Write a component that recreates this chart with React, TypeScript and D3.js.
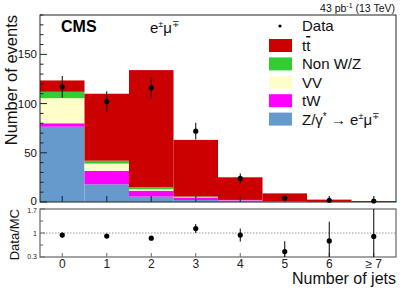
import React from "react";
import * as d3 from "d3";

const jetBins = ["0", "1", "2", "3", "4", "5", "6", "≥ 7"];
const dyValues = [76.5, 18, 5.5, 2, 0.5, 0.2, 0.05, 0.02];
const twValues = [3.5, 13.5, 6, 2.7, 1.2, 0.4, 0.1, 0.05];
const vvValues = [25.5, 7.5, 1.5, 0.4, 0.2, 0.05, 0.02, 0.01];
const nonWZValues = [6.5, 3, 2, 0.5, 0.2, 0.1, 0.05, 0.02];
const ttValues = [11.5, 68, 119, 57.5, 23, 8, 2.2, 0.9];
const dataValues = [117, 102, 116, 72, 24, 4, 1.8, 1];
const dataErrors = [11, 10.5, 10.7, 8.5, 5, 2.5, 1.4, 1];
const ratioValues = [0.94, 0.91, 0.85, 1.13, 0.94, 0.46, 0.77, 0.9];
const ratioErrors = [0.07, 0.06, 0.06, 0.13, 0.19, 0.3, 0.56, 1.0];

const processes = [
  { key: "dy", values: dyValues, color: "#6699cc" },
  { key: "tw", values: twValues, color: "#ff00ff" },
  { key: "vv", values: vvValues, color: "#ffffcc" },
  { key: "nonwz", values: nonWZValues, color: "#33cc33" },
  { key: "tt", values: ttValues, color: "#cc0000" },
];

const W = 407;
const H = 292;
const left = 40;
const right = 396;
const mainTop = 15;
const mainBottom = 202;
const ratioTop = 209;
const ratioBottom = 257;
const font = "'Liberation Sans', Arial, Helvetica, sans-serif";

export default function App() {
  const x = d3.scaleLinear().domain([-0.5, 7.5]).range([left, right]);
  const y = d3.scaleLinear().domain([0, 190]).range([mainBottom, mainTop]);
  const yr = d3.scaleLinear().domain([0.3, 1.7]).range([ratioBottom, ratioTop]);

  const rows = jetBins.map((_, i) => {
    const r: any = { i };
    processes.forEach((p) => (r[p.key] = p.values[i]));
    return r;
  });
  const stacked = d3.stack().keys(processes.map((p) => p.key))(rows);

  const yMajor = [0, 50, 100, 150];
  const yMinor = d3.range(0, 191, 10).filter((v) => v % 50 !== 0);
  const clampR = (v: number) => Math.max(0.3, Math.min(1.7, v));

  const legend = [
    { label: "tt", color: "#cc0000" },
    { label: "Non W/Z", color: "#33cc33" },
    { label: "VV", color: "#ffffcc" },
    { label: "tW", color: "#ff00ff" },
    { label: "Z", color: "#6699cc" },
  ];

  return (
    <svg width={W} height={H} style={{ position: "absolute", left: 0, top: 0, fontFamily: font }}>
      <rect width={W} height={H} fill="#fff" />
      {/* stacked histograms */}
      {stacked.map((layer, li) => (
        <g key={layer.key}>
          {layer.map((d, i) => (
            <rect
              key={i}
              x={x(i - 0.5)}
              width={x(i + 0.5) - x(i - 0.5)}
              y={y(d[1])}
              height={Math.max(0, y(d[0]) - y(d[1]))}
              fill={processes[li].color}
            />
          ))}
        </g>
      ))}
      {/* main frame */}
      <rect x={left} y={mainTop} width={right - left} height={mainBottom - mainTop} fill="none" stroke="#222" strokeWidth={1} />
      {yMajor.map((v) => (
        <g key={v}>
          <line x1={left} x2={left + 7} y1={y(v)} y2={y(v)} stroke="#222" />
          <text x={left - 3} y={y(v) + (v === 0 ? 2.5 : 4)} fontSize={11.5} textAnchor="end" fill="#111">{v}</text>
        </g>
      ))}
      {yMinor.map((v) => (
        <line key={v} x1={left} x2={left + 3.5} y1={y(v)} y2={y(v)} stroke="#222" />
      ))}
      {jetBins.map((_, i) => (
        <line key={i} x1={x(i)} x2={x(i)} y1={mainBottom} y2={mainBottom - 6} stroke="#223344" strokeWidth={1.2} />
      ))}
      {/* data points */}
      {dataValues.map((v, i) => (
        <g key={i}>
          <line x1={x(i)} x2={x(i)} y1={y(v + dataErrors[i])} y2={y(Math.max(0, v - dataErrors[i]))} stroke="#000" />
          <circle cx={x(i)} cy={y(v)} r={2.6} fill="#000" />
        </g>
      ))}
      <text x={right - 1} y={11.5} fontSize={10.5} textAnchor="end" fill="#111">
        43 pb<tspan dy={-4} fontSize={7}>-1</tspan><tspan dy={4}> (13 TeV)</tspan>
      </text>
      <text x={61} y={32} fontSize={16} fontWeight="bold" fill="#000">CMS</text>
      <text x={150} y={33} fontSize={15} fill="#111">
        e<tspan dy={-6} fontSize={9}>±</tspan><tspan dy={6}>μ</tspan><tspan dy={-6} fontSize={9}>∓</tspan>
      </text>
      {/* legend */}
      <circle cx={280} cy={26} r={1.6} fill="#000" />
      <text x={302} y={31} fontSize={15} fill="#111">Data</text>
      {legend.map((l, k) => {
        const cy = 45.5 + k * 18.4;
        return (
          <g key={k}>
            <rect x={269} y={cy - 6.5} width={23} height={13} fill={l.color} />
            <text x={302} y={cy + 5.5} fontSize={15} fill="#111">
              {l.label === "tt" ? (
                <>
                  t<tspan style={{ textDecoration: "overline" }}>t</tspan>
                </>
              ) : l.label === "Z" ? (
                <>
                  Z/γ<tspan dy={-5} fontSize={10}>*</tspan>
                  <tspan dy={5}> → e</tspan>
                  <tspan dy={-6} fontSize={9}>±</tspan>
                  <tspan dy={6}>μ</tspan>
                  <tspan dy={-6} fontSize={9}>∓</tspan>
                </>
              ) : (
                l.label
              )}
            </text>
          </g>
        );
      })}
      <text transform={`translate(17,${mainTop}) rotate(-90)`} fontSize={16.5} textAnchor="end" fill="#111">
        Number of events
      </text>
      {/* ratio panel */}
      <line x1={left} x2={right} y1={yr(1)} y2={yr(1)} stroke="#999" strokeDasharray="1.5,1.5" />
      <rect x={left} y={ratioTop} width={right - left} height={ratioBottom - ratioTop} fill="none" stroke="#666" strokeWidth={1.2} />
      {[0.3, 1, 1.7].map((v) => (
        <g key={v}>
          <line x1={left} x2={left + 5} y1={yr(v)} y2={yr(v)} stroke="#666" />
          <text x={left - 3} y={yr(v) + (v === 1.7 ? 4 : v === 0.3 ? 2 : 2.5)} fontSize={7} textAnchor="end" fill="#222">{v}</text>
        </g>
      ))}
      {[0.65, 1.35].map((v) => (
        <line key={v} x1={left} x2={left + 3} y1={yr(v)} y2={yr(v)} stroke="#666" />
      ))}
      {jetBins.map((lab, i) => (
        <g key={i}>
          <line x1={x(i)} x2={x(i)} y1={ratioBottom} y2={ratioBottom - 4} stroke="#666" />
          <text x={x(i)} y={268} fontSize={12} textAnchor="middle" fill="#222">{lab}</text>
        </g>
      ))}
      {ratioValues.map((v, i) => (
        <g key={i}>
          <line x1={x(i)} x2={x(i)} y1={yr(clampR(v + ratioErrors[i]))} y2={yr(clampR(v - ratioErrors[i]))} stroke="#000" />
          <circle cx={x(i)} cy={yr(v)} r={2.6} fill="#000" />
        </g>
      ))}
      <text transform={`translate(19,${ratioTop}) rotate(-90)`} fontSize={13} textAnchor="end" fill="#111">
        Data/MC
      </text>
      <text x={right} y={284} fontSize={16} textAnchor="end" fill="#111">Number of jets</text>
    </svg>
  );
}
